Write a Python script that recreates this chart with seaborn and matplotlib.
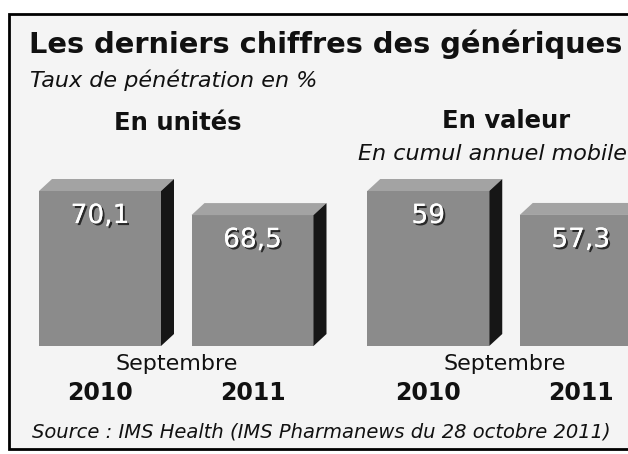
import matplotlib
matplotlib.use("Agg")
import matplotlib.pyplot as plt
import matplotlib.patheffects as pe
from matplotlib.patches import Polygon, Rectangle
from matplotlib.transforms import IdentityTransform, blended_transform_factory
import seaborn as sns

# données
titre = "Les derniers chiffres des génériques"
sous_titre = "Taux de pénétration en %"
source = "Source : IMS Health (IMS Pharmanews du 28 octobre 2011)"
annees = ["2010", "2011"]
panneaux = ["En unités", "En valeur"]
unites = [70.1, 68.5]
valeur = [59, 57.3]

sns.set_style("white")
plt.rcParams["font.family"] = ["DejaVu Sans"]
plt.rcParams["text.color"] = "#111111"
plt.rcParams["xtick.color"] = "#111111"

W, H = 628, 454
fig = plt.figure(figsize=(W / 100, H / 100), dpi=100)
fig.patch.set_facecolor("white")

# cadre du scan
fig.add_artist(Rectangle((9 / W, 5 / H), 1.2, 435 / H, transform=fig.transFigure,
                         facecolor="#f4f4f4", edgecolor="black", linewidth=2, zorder=-1))

face, dessus, cote = "#8b8b8b", "#a3a3a3", "#161616"
dx, dy = 13, 12  # profondeur 3D en pixels

ax1 = fig.add_axes([23.75 / W, 108 / H, 305 / W, 175 / H])
ax2 = fig.add_axes([352 / W, 108 / H, 305 / W, 175 / H])
limites = [(59.8, 71.43), (48.0, 60.42)]

for ax, vals, ylim in zip([ax1, ax2], [unites, valeur], limites):
    sns.barplot(x=annees, y=vals, ax=ax, color=face, saturation=1, width=0.8, edgecolor="none")
    ax.set_xlim(-0.5, 1.5)
    ax.set_ylim(*ylim)
    ax.set_facecolor("none")
    sns.despine(ax=ax, left=True, bottom=True)
    ax.set_yticks([])
    ax.set_ylabel("")
    ax.tick_params(axis="x", length=0, pad=25, labelsize=17)
    for t in ax.get_xticklabels():
        t.set_fontweight("bold")

    for bar, v in zip(ax.patches, vals):
        x0 = bar.get_x()
        x1 = x0 + bar.get_width()
        yt = bar.get_height()
        (X0, YB), (X1, YT) = ax.transData.transform([(x0, ylim[0]), (x1, yt)])
        ax.add_patch(Polygon([(X0, YT), (X0 + dx, YT + dy), (X1 + dx, YT + dy), (X1, YT)],
                             transform=IdentityTransform(), facecolor=dessus,
                             edgecolor="none", clip_on=False))
        ax.add_patch(Polygon([(X1, YB), (X1 + dx, YB + dy), (X1 + dx, YT + dy), (X1, YT)],
                             transform=IdentityTransform(), facecolor=cote,
                             edgecolor="none", clip_on=False))
        ax.annotate(f"{v:g}".replace(".", ","), (x0 + bar.get_width() / 2, yt),
                    xytext=(0, -18), textcoords="offset points", ha="center", va="center",
                    fontsize=19, color="white",
                    path_effects=[pe.withSimplePatchShadow(offset=(1.5, -1.5), shadow_rgbFace="black", alpha=0.7),
                                  pe.Normal()])

    tr = blended_transform_factory(ax.transData, ax.transAxes)
    ax.text(0.5, -0.1, "Septembre", transform=tr, ha="center", va="center", fontsize=16)

fig.text(29 / W, 1 - 44 / H, titre, fontsize=20.8, fontweight="bold", va="center")
fig.text(30 / W, 1 - 80 / H, sous_titre, fontsize=16, style="italic", va="center")
fig.text(178 / W, 1 - 123 / H, panneaux[0], fontsize=17.5, fontweight="bold", ha="center", va="center")
fig.text(506 / W, 1 - 121 / H, panneaux[1], fontsize=17.5, fontweight="bold", ha="center", va="center")
fig.text(358 / W, 1 - 154 / H, "En cumul annuel mobile", fontsize=16, style="italic", va="center")
fig.text(32 / W, 1 - 432 / H, source, fontsize=14, style="italic", va="center")

fig.savefig("out.png", dpi=100)
